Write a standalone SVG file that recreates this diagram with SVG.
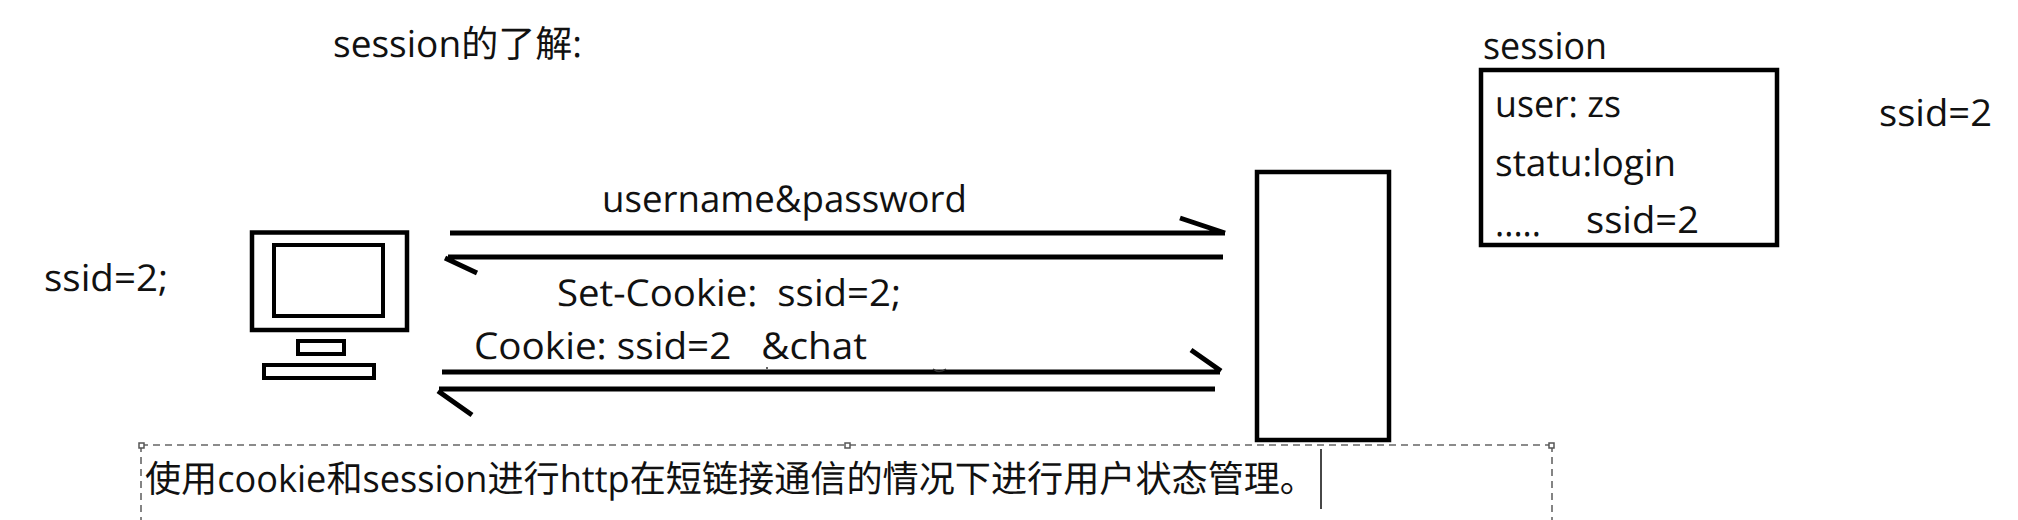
<svg xmlns="http://www.w3.org/2000/svg" width="2018" height="520" viewBox="0 0 2018 520">
<style>
text{font-family:"Open Sans","Noto Sans CJK SC",sans-serif;font-size:37px;fill:#111;text-rendering:geometricPrecision}
.box{fill:#fff;stroke:#000;stroke-width:4.5}
.thin{fill:#fff;stroke:#000;stroke-width:4}
.wire{fill:none;stroke:#000;stroke-width:5}
.sel{fill:none;stroke:#666;stroke-width:1.6;stroke-dasharray:7 5}
.hnd{fill:#fff;stroke:#555;stroke-width:1.5}
</style>
<rect width="2018" height="520" fill="#fff"/>
<text x="333" y="57" textLength="249" lengthAdjust="spacingAndGlyphs">session的了解:</text>
<g id="client">
<rect class="box" x="252" y="232.500" width="155" height="97.500"/>
<rect class="thin" x="274" y="245" width="109" height="71"/>
<rect class="thin" x="298" y="341" width="46" height="13"/>
<rect class="thin" x="264" y="365" width="110" height="13"/>
<text x="44" y="291" textLength="124" lengthAdjust="spacingAndGlyphs">ssid=2;</text>
</g>
<g id="server"><rect class="box" x="1257" y="172" width="132" height="268"/></g>
<g id="session">
<rect class="box" x="1481" y="70" width="296" height="175"/>
<text x="1483" y="59" textLength="124" lengthAdjust="spacingAndGlyphs">session</text>
<text x="1495" y="117" textLength="126" lengthAdjust="spacingAndGlyphs">user: zs</text>
<text x="1495" y="176" textLength="181" lengthAdjust="spacingAndGlyphs">statu:login</text>
<text x="1495" y="236" textLength="46" lengthAdjust="spacingAndGlyphs">.....</text>
<text x="1586" y="233" textLength="113" lengthAdjust="spacingAndGlyphs">ssid=2</text>
</g>
<text x="1879" y="126" textLength="113" lengthAdjust="spacingAndGlyphs">ssid=2</text>
<g id="connectors">
<path class="wire" d="M450 233H1225M1180 218L1225 233"/>
<path class="wire" d="M1223 257H448M445 258L477 273"/>
<path class="wire" d="M442 372H1220M1191 350L1221 371"/>
<path class="wire" d="M1215 389H439M438 391L472 415"/>
<circle cx="767" cy="368" r="1" fill="#333"/>
<path d="M933 369Q939 374 946 369" fill="none" stroke="#333" stroke-width="1.5"/>
</g>
<text x="602" y="212" textLength="365" lengthAdjust="spacingAndGlyphs">username&amp;password</text>
<text x="557" y="306" textLength="344" xml:space="preserve" lengthAdjust="spacingAndGlyphs">Set-Cookie:  ssid=2;</text>
<text x="474" y="359" textLength="393" xml:space="preserve" lengthAdjust="spacingAndGlyphs">Cookie: ssid=2   &amp;chat</text>
<g id="textbox">
<path class="sel" d="M141 445H1552M141 445V520M1552 445V520"/>
<rect class="hnd" x="139" y="443" width="5" height="5"/>
<rect class="hnd" x="845" y="443" width="5" height="5"/>
<rect class="hnd" x="1549" y="443" width="5" height="5"/>
<text x="145" y="492" textLength="1171" lengthAdjust="spacingAndGlyphs">使用cookie和session进行http在短链接通信的情况下进行用户状态管理。</text>
<path d="M1321 449V509" stroke="#333" stroke-width="1.8"/>
</g>
</svg>
